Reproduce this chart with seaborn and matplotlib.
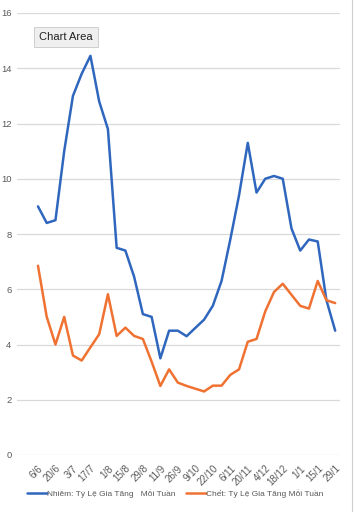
import pandas as pd
import seaborn as sns
import matplotlib.pyplot as plt
from matplotlib.lines import Line2D

# Weekly dates (every other one is shown as a tick label)
dates = ['6/6', '13/6', '20/6', '27/6', '3/7', '10/7', '17/7', '24/7', '1/8', '8/8',
         '15/8', '22/8', '29/8', '5/9', '11/9', '19/9', '26/9', '3/10', '9/10', '16/10',
         '22/10', '29/10', '6/11', '13/11', '20/11', '27/11', '4/12', '11/12', '18/12',
         '25/12', '1/1', '8/1', '15/1', '22/1', '29/1']

infected = [9.0, 8.4, 8.5, 11.0, 13.0, 13.8, 14.45, 12.8, 11.8, 7.5,
            7.4, 6.45, 5.1, 5.0, 3.5, 4.5, 4.5, 4.3, 4.6, 4.9,
            5.4, 6.3, 7.8, 9.4, 11.3, 9.5, 10.0, 10.1, 10.0, 8.2,
            7.4, 7.8, 7.73, 5.6, 4.5]

deaths = [6.85, 5.0, 4.0, 5.0, 3.6, 3.42, 3.9, 4.37, 5.82, 4.31,
          4.61, 4.31, 4.2, 3.38, 2.5, 3.1, 2.62, 2.5, 2.4, 2.3,
          2.51, 2.51, 2.9, 3.1, 4.1, 4.2, 5.2, 5.9, 6.2, 5.8,
          5.4, 5.3, 6.3, 5.6, 5.5]

label_infected = 'Nhiễm: Tỷ Lệ Gia Tăng   Mỗi Tuần'
label_deaths = 'Chết: Tỷ Lệ Gia Tăng Mỗi Tuần'

blue = '#3067BE'
orange = '#F07232'
grey_text = '#595959'

df = pd.DataFrame({
    'idx': list(range(len(dates))) * 2,
    'value': infected + deaths,
    'series': [label_infected] * len(dates) + [label_deaths] * len(dates),
})

sns.set_style('white')
plt.rcParams['font.family'] = ['Liberation Sans', 'DejaVu Sans']

fig = plt.figure(figsize=(3.54, 5.12), dpi=100)
ax = fig.add_axes([17 / 354, 57 / 512, 323 / 354, 442 / 512])

sns.lineplot(data=df, x='idx', y='value', hue='series',
             palette={label_infected: blue, label_deaths: orange},
             linewidth=1.8, legend=False, ax=ax)

ax.set_xlim(-2.4, 34.55)
ax.set_ylim(0, 16)
ax.set_yticks(range(0, 17, 2))
ax.yaxis.grid(True, color='#D9D9D9', linewidth=0.9)
ax.set_axisbelow(True)
for s in ax.spines.values():
    s.set_visible(False)

ax.set_xticks(range(0, len(dates), 2))
ax.set_xticklabels(dates[::2], rotation=45, ha='right', rotation_mode='anchor',
                   fontsize=7, color=grey_text)
ax.tick_params(axis='x', length=0, pad=6)
ax.tick_params(axis='y', length=0, pad=4, labelsize=6.8, labelcolor=grey_text)
ax.set_xlabel('')
ax.set_ylabel('')

handles = [Line2D([], [], color=blue, linewidth=1.8),
           Line2D([], [], color=orange, linewidth=1.8)]
fig.legend(handles, [label_infected, label_deaths], loc='center',
           bbox_to_anchor=(0.495, 18 / 512), ncol=2, frameon=False,
           fontsize=6.0, handlelength=2.4, handletextpad=0.0,
           columnspacing=1.3, labelcolor=grey_text)

# "Chart Area" tooltip
fig.text(66 / 354, 1 - 37 / 512, 'Chart Area', ha='center', va='center',
         fontsize=8, color='#222222',
         bbox=dict(boxstyle='square,pad=0.45', facecolor='#EFEFEF',
                   edgecolor='#C8C8C8', linewidth=0.6))

# right border of the chart frame
fig.add_artist(Line2D([352 / 354, 352 / 354], [0, 1], color='#CFCFCF',
                      linewidth=0.8, transform=fig.transFigure))

fig.savefig('out.png', dpi=100)
